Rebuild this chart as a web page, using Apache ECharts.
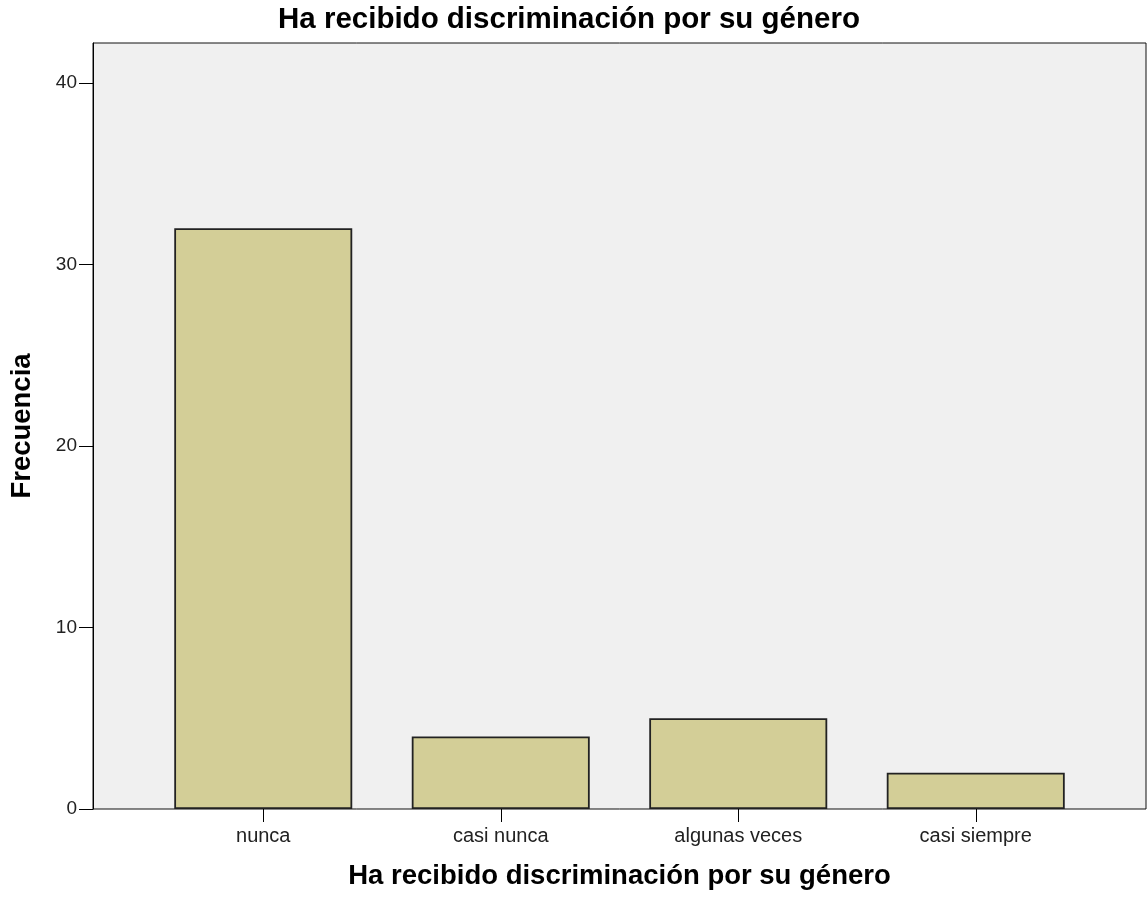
<!DOCTYPE html>
<html>
<head>
<meta charset="utf-8">
<script src="https://cdn.jsdelivr.net/npm/echarts@6/dist/echarts.min.js"></script>
<style>html,body{margin:0;padding:0;background:#fff;}#c{width:1148px;height:898px;}</style>
</head>
<body>
<div id="c"></div>
<script>
const titleText = 'Ha recibido discriminación por su género';
const categories = ['nunca', 'casi nunca', 'algunas veces', 'casi siempre'];
const frecuencia = [32, 4, 5, 2];
const yTicks = [0, 10, 20, 30, 40];
const yMax = 42.2;

const FONT = "'Liberation Sans', Arial, sans-serif";
const chart = echarts.init(document.getElementById('c'), null, {renderer: 'canvas'});
chart.setOption({
  animation: false,
  backgroundColor: '#ffffff',
  title: {
    text: titleText,
    left: 273,
    top: 0,
    textStyle: {fontFamily: FONT, fontSize: 29.5, fontWeight: 'bold', color: '#000'}
  },
  grid: [
    {left: 92, right: 2, top: 43, bottom: 89, show: true, backgroundColor: '#f0f0f0', borderColor: '#111', borderWidth: 1, containLabel: false},
    {left: 144.5, right: 53.5, top: 43, bottom: 89, containLabel: false}
  ],
  xAxis: [
    {gridIndex: 0, type: 'value', show: false, min: 0, max: 1},
    {
      gridIndex: 1, type: 'category', data: categories,
      axisLine: {show: false},
      axisTick: {show: true, alignWithLabel: true, length: 13, lineStyle: {color: '#000', width: 1}},
      axisLabel: {margin: 17, fontFamily: FONT, fontSize: 20, color: '#222'},
      name: titleText, nameLocation: 'middle', nameGap: 53,
      nameTextStyle: {fontFamily: FONT, fontSize: 27.5, fontWeight: 'bold', color: '#000'}
    }
  ],
  yAxis: [
    {
      gridIndex: 0, type: 'value', min: 0, max: yMax,
      axisLine: {show: true, lineStyle: {color: '#000', width: 1}},
      axisTick: {show: true, length: 14, customValues: yTicks, lineStyle: {color: '#000', width: 1}},
      axisLabel: {margin: 16, customValues: yTicks, fontFamily: FONT, fontSize: 19, color: '#222'},
      splitLine: {show: false},
      name: 'Frecuencia', nameLocation: 'middle', nameGap: 57,
      nameTextStyle: {fontFamily: FONT, fontSize: 27.5, fontWeight: 'bold', color: '#000'}
    },
    {gridIndex: 1, type: 'value', min: 0, max: yMax, show: false}
  ],
  series: [{
    type: 'bar',
    xAxisIndex: 1, yAxisIndex: 1,
    data: frecuencia,
    barWidth: 178,
    itemStyle: {color: '#d3ce97', borderColor: '#222', borderWidth: 1.8}
  }]
});
</script>
</body>
</html>
